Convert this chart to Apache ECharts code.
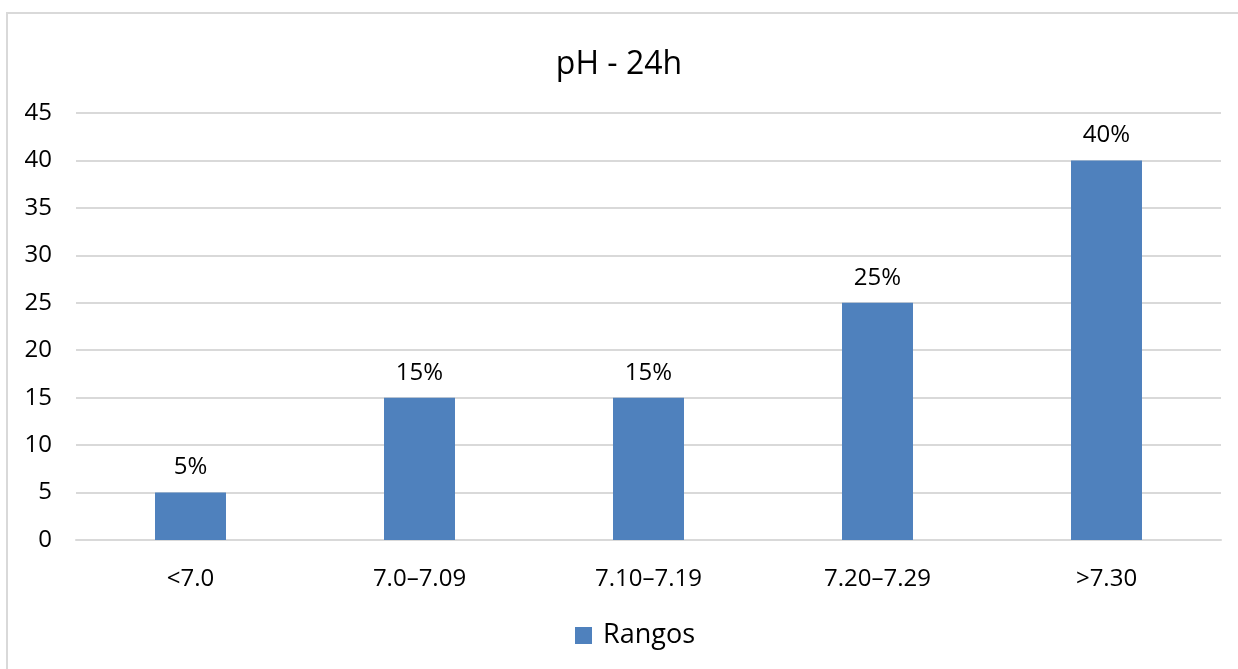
<!DOCTYPE html>
<html><head><meta charset="utf-8">
<script src="https://cdn.jsdelivr.net/npm/echarts@6/dist/echarts.min.js"></script>
<style>html,body{margin:0;padding:0;background:#fff}#c{width:1238px;height:669px}</style>
</head><body><div id="c"></div>
<script>
const categories = ["<7.0", "7.0–7.09", "7.10–7.19", "7.20–7.29", ">7.30"];
const values = [5, 15, 15, 25, 40];
const seriesName = "Rangos";
const FONT = "Open Sans";
const chart = echarts.init(document.getElementById('c'));
chart.setOption({
  animation: false,
  textStyle: {fontFamily: FONT},
  graphic: [{type: 'rect', silent: true, shape: {x: 7, y: 13, width: 1300, height: 700},
    style: {fill: 'none', stroke: '#d9d9d9', lineWidth: 2}}],
  title: {text: 'pH - 24h', left: 'center', top: 49, padding: 0,
    textStyle: {fontFamily: FONT, fontSize: 32, fontWeight: 'normal', color: '#000'}},
  legend: {top: 622, left: 575, padding: 0, itemWidth: 17, itemHeight: 17, icon: 'rect',
    textStyle: {fontFamily: FONT, fontSize: 27, color: '#000', padding: [0, 0, 0, 6]}, data: [seriesName]},
  grid: {left: 76, right: 17, top: 113, bottom: 129, containLabel: false},
  xAxis: {type: 'category', data: categories,
    axisLine: {lineStyle: {color: '#d9d9d9', width: 2}}, axisTick: {show: false},
    axisLabel: {fontFamily: FONT, fontSize: 24, color: '#000', margin: 27}},
  yAxis: {type: 'value', min: 0, max: 45, interval: 5,
    axisLine: {show: false}, axisTick: {show: false},
    splitLine: {lineStyle: {color: '#d9d9d9', width: 2}},
    axisLabel: {fontFamily: FONT, fontSize: 24, color: '#000', margin: 24}},
  series: [{name: seriesName, type: 'bar', data: values, barWidth: '31%',
    itemStyle: {color: '#4f81bd'},
    label: {show: true, position: 'top', distance: 13, formatter: '{c}%',
      fontFamily: FONT, fontSize: 24, color: '#000'}}]
});
</script></body></html>
